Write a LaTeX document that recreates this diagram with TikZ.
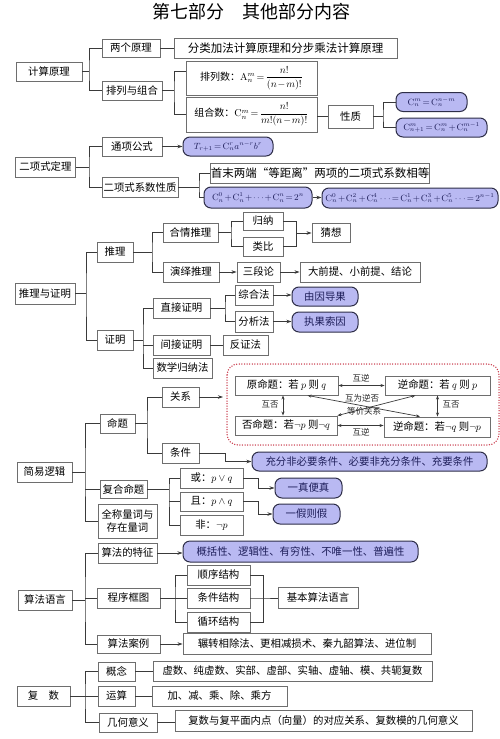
\documentclass[tikz,border=0pt]{standalone}
\usepackage{amsmath}
\usepackage[no-math]{fontspec}
\setmainfont{Noto Sans CJK SC}
\usetikzlibrary{arrows.meta}
\definecolor{bxline}{HTML}{6E6E6E}
\definecolor{cline}{HTML}{3A3A3A}
\definecolor{bfill}{HTML}{B9B9F2}
\definecolor{bline}{HTML}{2E2E48}
\definecolor{btext}{HTML}{1E1E5A}
\definecolor{dotred}{HTML}{C8384A}
\newcommand{\tightmath}{\medmuskip=1.5mu\relax\thickmuskip=2.5mu\relax}
\begin{document}
\begin{tikzpicture}[x=1pt,y=-1pt,
  bx/.style={draw=bxline, line width=0.9pt, fill=white, rectangle, inner sep=0pt, align=center, font=\fontsize{10.4}{13}\selectfont},
  bb/.style={draw=bline, line width=1pt, fill=bfill, rounded corners=7pt, inner sep=0pt, align=center, text=btext, font=\fontsize{10.4}{13}\selectfont},
  fm/.style={font=\fontsize{10}{12}\selectfont\tightmath},
  fs/.style={font=\fontsize{9}{11}\selectfont\tightmath},
  big/.style={font=\fontsize{11.5}{14}\selectfont},
  lbl/.style={inner sep=0pt, font=\fontsize{8.5}{10}\selectfont, text=black!85},
  sz/.style 2 args={minimum width=#1, minimum height=#2},
  ln/.style={draw=cline, line width=0.7pt},
  ar/.style={ln, -{Stealth[length=5pt,width=3.5pt]}},
  dar/.style={ln, {Stealth[length=4pt,width=3pt]}-{Stealth[length=4pt,width=3pt]}}]
\useasboundingbox (0,0) rectangle (500,739);

% title
\node[font=\fontsize{18}{20}\selectfont] (title) at (251,12) {第七部分\hspace{1em}其他部分内容};

% ---------------- section 1
\node[bx,sz={66}{19}] (jsyl) at (49,71.5) {计算原理};
\node[bx,sz={58}{18}] (lgyl) at (131,48) {两个原理};
\node[bx,big,sz={223}{20}] (flja) at (285.5,48) {分类加法计算原理和分步乘法计算原理};
\node[bx,sz={60}{19}] (plzh) at (132,90.5) {排列与组合};
\node[bx,fm,sz={131}{34}] (pls) at (251.5,78) {排列数：$\mathrm{A}_n^m=\dfrac{n!}{(n-m)!}$};
\node[bx,fm,sz={131}{35}] (zhs) at (251.5,114.5) {组合数：$\mathrm{C}_n^m=\dfrac{n!}{m!(n-m)!}$};
\node[bx,sz={45}{23}] (xz) at (350.5,116.5) {性质};
\node[bb,fs,sz={71}{19}] (b1) at (431.5,102) {$\mathrm{C}_n^m=\mathrm{C}_n^{n-m}$};
\node[bb,fs,sz={91}{19}] (b2) at (441.5,127.5) {$\mathrm{C}_{n+1}^m=\mathrm{C}_n^m+\mathrm{C}_n^{m-1}$};

\coordinate (f1) at (89,71.5);
\draw[ln] (jsyl.east) -- (f1);
\draw[ln] (lgyl.west) -| (f1) |- (plzh.west);
\draw[ln] (lgyl.east) -- (flja.west);
\coordinate (f2) at (174,90.5);
\draw[ln] (plzh.east) -- (f2);
\draw[ln] ([yshift=7pt]pls.west) -| (f2) |- (zhs.west);
\draw[ln] (xz.west) -- (xz.west -| zhs.east);
\coordinate (f3) at (383,116.5);
\draw[ln] (xz.east) -- (f3);
\draw[ln] (b1.west) -| (f3) |- (b2.west);

% ---------------- section 2
\node[bx,sz={60}{20}] (exs) at (45.5,167) {二项式定理};
\node[bx,sz={60}{19}] (txgs) at (132,146.5) {通项公式};
\node[bx,sz={76}{20}] (xsxz) at (140,187.5) {二项式系数性质};
\node[bb,fs,sz={90}{19}] (bT) at (228,146.5) {$T_{r+1}=\mathrm{C}_n^r a^{n-r}b^r$};
\node[bx,big,sz={216}{20}] (smld) at (320,173) {首末两端“等距离”两项的二项式系数相等};
\node[bb,fs,sz={108}{21}] (b2n) at (258,197.5) {$\mathrm{C}_n^0+\mathrm{C}_n^1+\cdots+\mathrm{C}_n^n=2^n$};
\node[bb,fs,sz={176}{20}] (b2n1) at (410,198) {$\mathrm{C}_n^0+\mathrm{C}_n^2+\mathrm{C}_n^4\cdots=\mathrm{C}_n^1+\mathrm{C}_n^3+\mathrm{C}_n^5\cdots=2^{n-1}$};

\coordinate (f4) at (89,167);
\draw[ln] (exs.east) -- (f4);
\draw[ln] (txgs.west) -| (f4) |- (xsxz.west);
\draw[ar] (txgs.east) -- (bT.west);
\coordinate (f5) at (199,187.5);
\draw[ln] (xsxz.east) -- (f5);
\draw[ln] (smld.west) -| (f5) |- (b2n.west);
\draw[ar] (b2n.east) -- (b2n1.west |- b2n.east);

% ---------------- section 3
\node[bx,sz={60}{21}] (tlzm) at (45,293.5) {推理与证明};
\node[bx,sz={36}{20}] (tl) at (115,252) {推理};
\node[bx,sz={36}{20}] (zm) at (115,340) {证明};
\node[bx,sz={55}{19}] (hqtl) at (190.5,232.5) {合情推理};
\node[bx,sz={56}{20}] (yytl) at (191,272) {演绎推理};
\node[bx,sz={40}{18}] (gn) at (263,221) {归纳};
\node[bx,sz={40}{19}] (lb) at (263,246.5) {类比};
\node[bx,sz={38}{19}] (cx) at (331,233) {猜想};
\node[bx,sz={43}{20}] (sdl) at (258.5,272) {三段论};
\node[bx,sz={120}{20}] (dqt) at (360,272) {大前提、小前提、结论};
\node[bx,sz={57}{20}] (zjzm) at (181.5,308) {直接证明};
\node[bx,sz={57}{20}] (jjzm) at (181.5,345) {间接证明};
\node[bx,sz={59}{20}] (sxgn) at (182.5,368) {数学归纳法};
\node[bx,sz={45}{20}] (fzf) at (245.5,345) {反证法};
\node[bx,sz={38}{20}] (zhf) at (254,295) {综合法};
\node[bx,sz={38}{21}] (fxf) at (254,321.5) {分析法};
\node[bb,sz={66}{19}] (yydg) at (325,296.5) {由因导果};
\node[bb,sz={66}{20}] (zgsy) at (325,322) {执果索因};

\coordinate (f6) at (86,293.5);
\draw[ln] (tlzm.east) -- (f6);
\draw[ln] (tl.west) -| (f6) |- (zm.west);
\coordinate (f7) at (152,252);
\draw[ln] (tl.east) -- (f7);
\draw[ln] (hqtl.west) -| (f7) |- (yytl.west);
\coordinate (f8) at (231,232.5);
\draw[ln] (hqtl.east) -- (f8);
\draw[ln] (gn.west) -| (f8) |- (lb.west);
\coordinate (f8b) at (296,233);
\draw[ln] (gn.east) -| (f8b);
\draw[ln] (lb.east) -| (f8b);
\draw[ar] (f8b) -- (cx.west |- f8b);
\draw[ar] (yytl.east) -- (sdl.west);
\draw[ar] (sdl.east) -- (dqt.west);
\coordinate (f9) at (143,340);
\draw[ln] (zm.east) -- (f9);
\draw[ln] (zjzm.west) -| (f9) |- (sxgn.west);
\draw[ln] (jjzm.west) -- (jjzm.west -| f9);
\draw[ln] (jjzm.east) -- (fzf.west);
\coordinate (f10) at (225,308);
\draw[ln] (zjzm.east) -- (f10);
\draw[ln] (zhf.west) -| (f10) |- (fxf.west);
\draw[ar] (zhf.east) -- (yydg.west |- zhf.east);
\draw[ar] (fxf.east) -- (zgsy.west |- fxf.east);

% ---------------- section 4
\node[bx,sz={55}{20}] (jyl) at (44.5,472) {简易逻辑};
\node[bx,sz={35}{19}] (mt) at (117.5,423.5) {命题};
\node[bx,sz={37}{20}] (gx) at (180.5,397) {关系};
\node[bx,sz={37}{20}] (tj) at (180.5,453) {条件};
\draw[dotred, line width=1.5pt, line cap=round, dash pattern=on 0pt off 2.6pt, rounded corners=11pt] (227,364) rectangle (499,445);
\node[bx,sz={103}{19}] (yuan) at (286.5,385.5) {原命题：若 $p$ 则 $q$};
\node[bx,sz={105}{19}] (ni) at (437.5,385.5) {逆命题：若 $q$ 则 $p$};
\node[bx,sz={102}{19}] (fou) at (286,425.5) {否命题：若$\neg p$ 则$\neg q$};
\node[bx,sz={106}{20}] (nifou) at (437,427) {逆命题：若$\neg q$ 则$\neg p$};
\node[bb,sz={235}{19}] (cf) at (369.5,461.5) {充分非必要条件、必要非充分条件、充要条件};
\node[bx,sz={47}{18}] (fhmt) at (123.5,489) {复合命题};
\node[bx,sz={59}{34}] (qc) at (127.5,521) {全称量词与\\存在量词};
\node[bx,sz={63}{20}] (huo) at (211.5,478) {或：$p\vee q$};
\node[bx,sz={63}{19}] (qie) at (211.5,501.5) {且：$p\wedge q$};
\node[bx,sz={63}{20}] (fei) at (211.5,525) {非：$\neg p$};
\node[bb,sz={67}{20}] (yzbz) at (308.5,488) {一真便真};
\node[bb,sz={67}{20}] (yjzj) at (306.5,514) {一假则假};

\coordinate (f11) at (85,472);
\draw[ln] (jyl.east) -- (f11);
\draw[ln] (mt.west) -| (f11) |- (qc.west);
\draw[ln] (fhmt.west) -- (fhmt.west -| f11);
\coordinate (f12) at (147,423.5);
\draw[ln] (mt.east) -- (f12);
\draw[ln] (gx.west) -| (f12) |- (tj.west);
\coordinate (gxend) at (223,397);
\draw[ar] (gx.east) -- (gxend);
\coordinate (f12b) at (225,453);
\draw[ln] (tj.east) -- (f12b);
\draw[ar] (f12b) |- (cf.west);

\draw[dar] (yuan.east) -- (ni.west);
\node[lbl] (l1) at (361,378.5) {互逆};
\draw[dar] (fou.east) -- (nifou.west |- fou.east);
\node[lbl] (l2) at (361,432.5) {互逆};
\draw[dar] ([xshift=-3.5pt]yuan.south) -- ([xshift=-3.5pt]yuan.south |- fou.north);
\node[lbl] (l3) at (270,405) {互否};
\draw[dar] (ni.south) -- (ni.south |- nifou.north);
\node[lbl] (l4) at (451,405) {互否};
\draw[dar] ([xshift=21pt]yuan.south) -- ([xshift=-17pt]nifou.north);
\draw[dar] (fou.north east) -- ([xshift=-22pt]ni.south);
\node[lbl] (l5) at (362,398) {互为逆否};
\node[lbl] (l6) at (364,411) {等价关系};

\coordinate (f13) at (169,489);
\draw[ln] (fhmt.east) -- (f13);
\draw[ln] (huo.west) -| (f13) |- (fei.west);
\draw[ln] (qie.west) -- (qie.west -| f13);
\coordinate (k1) at (258,488);
\draw[ar] (huo.east) -| (k1) -- (yzbz.west);
\coordinate (k2) at (258,514);
\draw[ar] (qie.east) -| (k2) -- (yjzj.west);

% ---------------- section 5
\node[bx,sz={54}{20}] (sfyy) at (45,600) {算法语言};
\node[bx,sz={59}{20}] (sftz) at (127.5,553) {算法的特征};
\node[bb,sz={235}{21}] (bgk) at (300.5,551.5) {概括性、逻辑性、有穷性、不唯一性、普遍性};
\node[bx,sz={63}{20}] (cxkt) at (128.5,598) {程序框图};
\node[bx,sz={63}{20}] (sxjg) at (218.5,575) {顺序结构};
\node[bx,sz={63}{20}] (tjjg) at (218.5,598) {条件结构};
\node[bx,sz={63}{20}] (xhjg) at (218.5,622) {循环结构};
\node[bx,sz={80}{21}] (jbsf) at (318,597.5) {基本算法语言};
\node[bx,sz={63}{18}] (sfal) at (128.5,644) {算法案例};
\node[bx,sz={248}{21}] (bz) at (307,643.5) {辗转相除法、更相减损术、秦九韶算法、进位制};

\coordinate (f14) at (85,600);
\draw[ln] (sfyy.east) -- (f14);
\draw[ln] (sftz.west) -| (f14) |- (sfal.west);
\draw[ln] (cxkt.west) -- (cxkt.west -| f14);
\draw[ar] (sftz.east) -- (bgk.west |- sftz.east);
\coordinate (f15) at (175,598);
\draw[ln] (cxkt.east) -- (f15);
\draw[ln] (sxjg.west) -| (f15) |- (xhjg.west);
\draw[ln] (tjjg.west) -- (f15);
\coordinate (f16) at (263,598);
\draw[ln] (sxjg.east) -| (f16);
\draw[ln] (xhjg.east) -| (f16);
\draw[ln] (tjjg.east) -- (f16) -- (jbsf.west |- f16);
\draw[ar] (sfal.east) -- (bz.west |- sfal.east);

% ---------------- section 6
\node[bx,sz={53}{20}] (fsh) at (43.5,696) {复\hspace{1em}数};
\node[bx,sz={37}{19}] (gn2) at (116.5,671.5) {概念};
\node[bx,sz={37}{20}] (ys) at (116.5,696) {运算};
\node[bx,sz={58}{19}] (jhyy) at (128,722.5) {几何意义};
\node[bx,sz={279}{20}] (xs) at (292.5,671) {虚数、纯虚数、实部、虚部、实轴、虚轴、模、共轭复数};
\node[bx,sz={135}{20}] (jj) at (219.5,696) {加、减、乘、除、乘方};
\node[bx,sz={297}{21}] (fsy) at (323.5,720.5) {复数与复平面内点（向量）的对应关系、复数模的几何意义};

\coordinate (f17) at (85,696);
\draw[ln] (fsh.east) -- (f17);
\draw[ln] (gn2.west) -| (f17) |- (jhyy.west);
\draw[ln] (ys.west) -- (f17);
\draw[ln] (gn2.east) -- (xs.west |- gn2.east);
\draw[ln] (ys.east) -- (jj.west);
\draw[ln] (jhyy.east) -- (fsy.west |- jhyy.east);
\end{tikzpicture}
\end{document}
